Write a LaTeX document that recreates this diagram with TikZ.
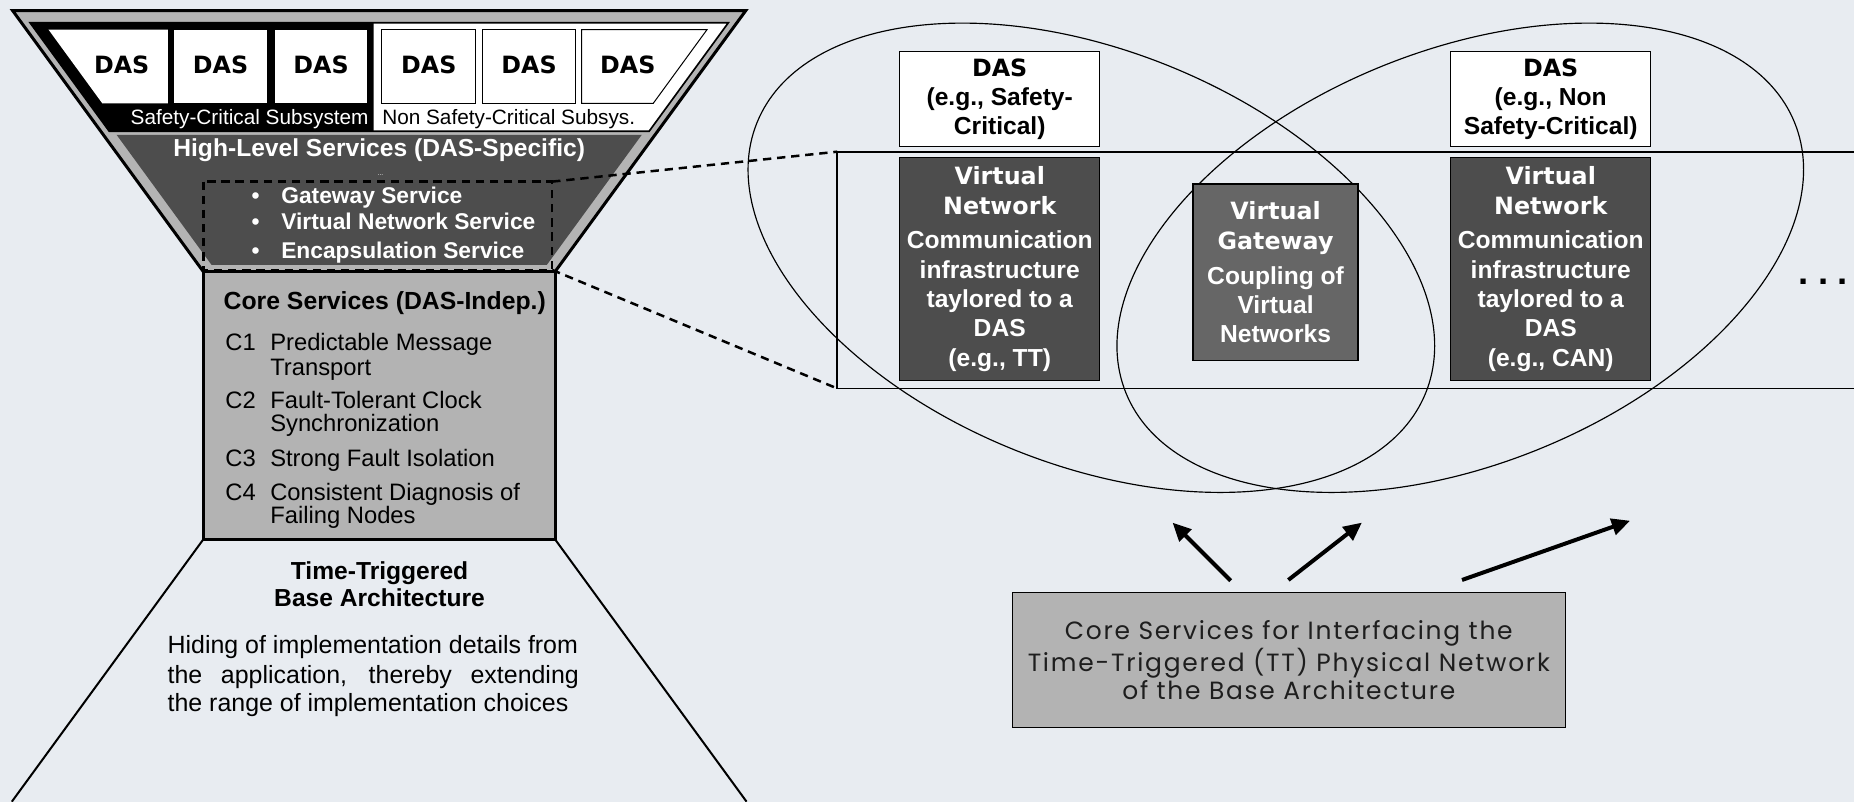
\documentclass[tikz,border=0pt]{standalone}
\usepackage{fontspec}
\setmainfont{Liberation Sans}
\newfontfamily\heavyfont{DejaVu Sans}
\newfontfamily\geofont[LetterSpace=7]{Poppins}
\usepackage{xcolor}
\usepackage{tikz}
\usetikzlibrary{shapes,arrows,positioning,calc,arrows.meta}

\definecolor{bgcol}{RGB}{232,236,241}
\definecolor{funnelgray}{RGB}{180,180,180}
\definecolor{darkband}{RGB}{77,77,77}
\definecolor{gwgray}{RGB}{102,102,102}
\definecolor{coregray}{RGB}{179,179,179}
\definecolor{inktext}{RGB}{30,30,30}

\newcommand{\hvy}[1]{{\heavyfont\bfseries\fontsize{14.3}{17.6}\selectfont #1}}

\tikzset{
  dasbox/.style={draw=black, line width=0.8pt, fill=white, align=center, inner sep=0pt,
    minimum width=120.2pt, minimum height=57.1pt, font=\fontsize{14.8}{17.6}\selectfont\bfseries},
  vnbox/.style={draw=black, line width=0.8pt, fill=darkband, text=white, align=center, inner sep=0pt,
    minimum width=120.2pt, minimum height=134.4pt, font=\fontsize{14.8}{17.6}\selectfont\bfseries},
  gwbox/.style={vnbox, fill=gwgray, minimum width=99.3pt, minimum height=106.3pt},
  basebox/.style={draw=black, line width=0.8pt, fill=coregray, text=inktext, align=center, inner sep=0pt,
    minimum width=332.4pt, minimum height=81.4pt, font=\geofont\fontsize{15}{16.8}\selectfont},
  topdas/.style={anchor=base, inner sep=0pt, font=\heavyfont\bfseries\fontsize{14.3}{17}\selectfont},
  sublabel/.style={inner sep=0pt, font=\fontsize{12.5}{14}\selectfont},
  bullet/.style={anchor=base west, inner sep=0pt, text=white, font=\fontsize{13.7}{16}\selectfont\bfseries},
  coreitem/.style={anchor=base west, inner sep=0pt, font=\fontsize{14.3}{14}\selectfont},
  plain/.style={anchor=base west, inner sep=0pt, font=\fontsize{15}{17}\selectfont},
  hidash/.style={line width=1.5pt, dash pattern=on 5pt off 3.5pt},
  uparrow/.style={line width=2.4pt, -{Triangle[length=11pt,width=10pt]}}
}

\begin{document}
\begin{tikzpicture}[x=0.025cm, y=0.025cm]
    \useasboundingbox (0,0) rectangle (1568,-678);
    \fill[bgcol] (0,0) rectangle (1568,-678);

    % Funnel
    \filldraw[fill=funnelgray, line width=1.8pt] (10.7,-9) -- (630.7,-9) -- (469.4,-229.8) -- (172,-229.8) -- cycle;
    \filldraw[fill=white, line width=1pt] (25.4,-19.2) -- (616,-19.2) -- (549,-111) -- (92.4,-111) -- cycle;
    \fill[black] (25.4,-19.2) -- (316,-19.2) -- (316,-111) -- (92.4,-111) -- cycle;

    % DAS boxes
    \fill[white] (41,-25) -- (142,-25) -- (142,-87.5) -- (86.6,-87.5) -- cycle;
    \fill[white] (147.5,-25) rectangle (225.5,-87.5);
    \fill[white] (232.5,-25) rectangle (310.5,-87.5);
    \draw[line width=0.6pt] (323,-25) rectangle (402.5,-87.5);
    \draw[line width=0.6pt] (408,-25) rectangle (487,-87.5);
    \draw[line width=0.6pt] (492,-25) -- (598,-25) -- (552.4,-87.5) -- (492,-87.5) -- cycle;

    \node[topdas] (das-a) at (102.9,-62) {DAS};
    \node[topdas] (das-b) at (186.5,-62) {DAS};
    \node[topdas] (das-c) at (271.5,-62) {DAS};
    \node[topdas] (das-d) at (362.7,-62) {DAS};
    \node[topdas] (das-e) at (447.5,-62) {DAS};
    \node[topdas] (das-f) at (531,-62) {DAS};

    \node[sublabel, anchor=base east, text=white] (sc) at (312,-104.9) {Safety-Critical Subsystem};
    \node[sublabel, anchor=base west] (nsc) at (323,-104.9) {Non Safety-Critical Subsys.};

    % High-level services
    \fill[darkband] (98.6,-114) -- (542.8,-114) -- (462.5,-224) -- (178.9,-224) -- cycle;
    \node[anchor=base, inner sep=0pt, text=white, font=\fontsize{14.8}{17}\selectfont\bfseries] (hls) at (320.7,-132.5) {High-Level Services (DAS-Specific)};
    \node[text=white, inner sep=0pt, font=\fontsize{4}{4}\selectfont] (hdots) at (321.8,-148) {...};
    \node[bullet] (gws) at (212.6,-171.9) {\textbullet\hspace{13pt}Gateway Service};
    \node[bullet] (vns) at (212.6,-194.5) {\textbullet\hspace{13pt}Virtual Network Service};
    \node[bullet] (ens) at (212.6,-218.5) {\textbullet\hspace{13pt}Encapsulation Service};
    \draw[hidash] (172,-153.6) rectangle (467,-228.3);
    \coordinate (hl-ne) at (467,-153.6);
    \coordinate (hl-se) at (467,-228.3);

    % Core services
    \filldraw[fill=coregray, line width=1.8pt] (172,-229.8) rectangle (469.4,-456.1);
    \node[anchor=base west, inner sep=0pt, font=\fontsize{14.9}{17}\selectfont\bfseries] (cst) at (188.9,-261.6) {Core Services (DAS-Indep.)};
    \node[coreitem] (c1) at (190.3,-296.6) {C1};
    \node[coreitem] (c1a) at (228.3,-296.6) {Predictable Message};
    \node[coreitem] (c1b) at (228.3,-317.2) {Transport};
    \node[coreitem] (c2) at (190.3,-345.3) {C2};
    \node[coreitem] (c2a) at (228.3,-345.3) {Fault-Tolerant Clock};
    \node[coreitem] (c2b) at (228.3,-365.1) {Synchronization};
    \node[coreitem] (c3) at (190.3,-394.7) {C3};
    \node[coreitem] (c3a) at (228.3,-394.7) {Strong Fault Isolation};
    \node[coreitem] (c4) at (190.3,-422.9) {C4};
    \node[coreitem] (c4a) at (228.3,-422.9) {Consistent Diagnosis of};
    \node[coreitem] (c4b) at (228.3,-442.6) {Failing Nodes};

    % Base architecture
    \draw[line width=1.2pt] (172,-456.1) -- (10,-678);
    \draw[line width=1.2pt] (469.4,-456.1) -- (631.4,-678);
    \node[anchor=base, inner sep=0pt, font=\fontsize{14.8}{17}\selectfont\bfseries] (tt1) at (321,-490.5) {Time-Triggered};
    \node[anchor=base, inner sep=0pt, font=\fontsize{14.8}{17}\selectfont\bfseries] (tt2) at (321,-513) {Base Architecture};
    \node[plain] (p1) at (141.5,-552.6) {Hiding of implementation details from};
    \node[plain] (p2) at (141.5,-577.9) {\makebox[247.3pt][s]{the application, thereby extending}};
    \node[plain] (p3) at (141.5,-601.9) {the range of implementation choices};

    % Virtual networks
    \draw[line width=0.7pt, rotate around={-22:(923,-218)}] (923,-218) ellipse [x radius=305, y radius=175];
    \draw[line width=0.7pt, rotate around={22:(1235,-218)}] (1235,-218) ellipse [x radius=305, y radius=175];
    \coordinate (net-nw) at (708,-128.3);
    \coordinate (net-sw) at (708,-328.5);
    \draw[line width=1pt] (1568,-128.3) -- (net-nw) -- (net-sw) -- (1568,-328.5);
    \draw[hidash] (hl-ne) -- (net-nw);
    \draw[hidash] (hl-se) -- (net-sw);

    \node[dasbox] (das1) at (845.5,-83.9) {\hvy{DAS}\\(e.g., Safety-\\Critical)};
    \node[vnbox] (vn1) at (845.5,-227.5) {\hvy{Virtual}\\\hvy{Network}\\[3.4pt]Communication\\infrastructure\\taylored to a\\DAS\\(e.g., TT)};
    \node[gwbox] (gw) at (1078.8,-230.3) {\hvy{Virtual}\\\hvy{Gateway}\\[3.4pt]Coupling of\\Virtual\\Networks};
    \node[dasbox] (das2) at (1311.5,-83.9) {\hvy{DAS}\\(e.g., Non\\Safety-Critical)};
    \node[vnbox] (vn2) at (1311.5,-227.5) {\hvy{Virtual}\\\hvy{Network}\\[3.4pt]Communication\\infrastructure\\taylored to a\\DAS\\(e.g., CAN)};
    \node[font=\fontsize{22}{22}\selectfont\bfseries] (more) at (1542,-238) {.\hspace{5.5pt}.\hspace{5.5pt}.};

    % Core services of the physical network
    \node[basebox] (phys) at (1090,-558.2) {Core Services for Interfacing the\\Time-Triggered (TT) Physical Network\\of the Base Architecture};
    \coordinate (a1s) at (1040.8,-491.1);
    \coordinate (a1e) at (991.7,-442);
    \coordinate (a2s) at (1089.6,-490.5);
    \coordinate (a2e) at (1151.8,-442);
    \coordinate (a3s) at (1236.5,-490.5);
    \coordinate (a3e) at (1378.6,-440.4);
    \draw[uparrow] (a1s) -- (a1e);
    \draw[uparrow] (a2s) -- (a2e);
    \draw[uparrow] (a3s) -- (a3e);
\end{tikzpicture}
\end{document}
